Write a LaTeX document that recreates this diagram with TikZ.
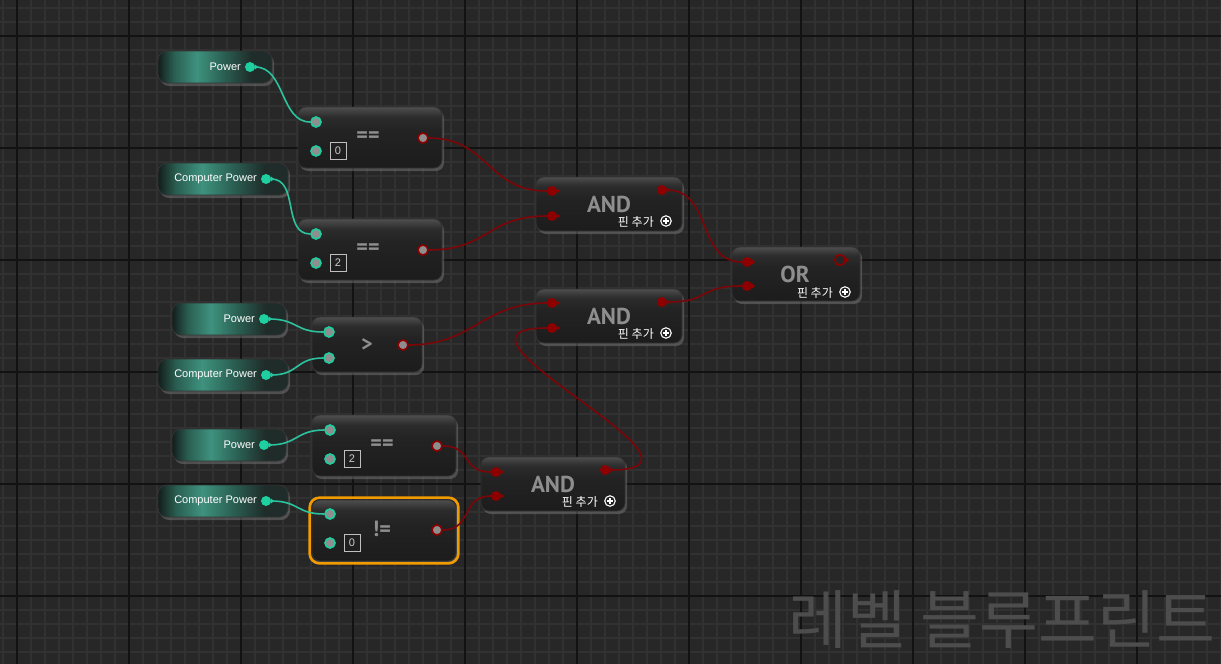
\documentclass[tikz,border=0pt]{standalone}
\usepackage{fontspec}
\setmainfont{Liberation Sans}
\newfontfamily\kofont{Noto Sans CJK KR}
\newfontfamily\gatefont{PT Sans}
\usetikzlibrary{shadows}

\definecolor{bgcol}{HTML}{272727}
\definecolor{minorline}{HTML}{313131}
\definecolor{majorline}{HTML}{121212}
\definecolor{tealpin}{HTML}{1ECFA0}
\definecolor{tealwire}{HTML}{2BC39E}
\definecolor{redpin}{HTML}{8E0000}
\definecolor{redwire}{HTML}{7C0508}
\definecolor{pingrey}{HTML}{8E8E8E}
\definecolor{optext}{HTML}{8E8E8E}
\definecolor{opbot}{HTML}{1C1C1C}
\definecolor{opmid}{HTML}{232323}
\definecolor{opmid2}{HTML}{2C2C2C}
\definecolor{optop}{HTML}{4E4E4E}
\definecolor{vdark}{HTML}{141D1B}
\definecolor{vmid}{HTML}{2A5F52}
\definecolor{vteal}{HTML}{3E927E}
\definecolor{vdark2}{HTML}{1F2C29}
\definecolor{selorange}{HTML}{F29B00}
\definecolor{watermark}{HTML}{4D4D4D}

\pgfdeclareverticalshading{opshade}{100bp}{color(0bp)=(opbot); color(25bp)=(opbot); color(56bp)=(opmid); color(67bp)=(opmid2); color(75bp)=(optop); color(100bp)=(optop)}
\pgfdeclarehorizontalshading{varshade}{100bp}{color(0bp)=(vdark); color(25bp)=(vdark); color(32bp)=(vmid); color(42bp)=(vteal); color(54bp)=(vmid); color(66bp)=(vdark2); color(100bp)=(vdark2)}

% little triangle beside a pin
\newcommand{\pinarrow}[2]{\fill[#2] ([xshift=-0.5pt]#1.east) -- ++(0,2.6) -- ++(3.6,-2.6) -- ++(-3.6,-2.6) -- cycle;}

\begin{document}
\begin{tikzpicture}[x=1pt, y=-1pt,
    opnode/.style={rectangle, rounded corners=8pt, shading=opshade, draw=black!80, line width=0.8pt,
      drop shadow={shadow xshift=2pt, shadow yshift=-3pt, opacity=0.45}, inner sep=0pt},
    varnode/.style={rectangle, rounded corners=9pt, shading=varshade, draw=black!80, line width=0.8pt,
      minimum height=32pt, drop shadow={shadow xshift=2pt, shadow yshift=-3pt, opacity=0.45}, inner sep=0pt},
    varlabel/.style={text=white, font=\fontsize{11}{11}\selectfont, inner sep=0pt, anchor=east},
    varpin/.style={circle, fill=tealpin, inner sep=0pt, minimum size=10pt},
    inpin/.style={circle, draw=tealpin, fill=pingrey, line width=1.6pt, inner sep=0pt, minimum size=10pt},
    outpin/.style={circle, draw=redpin, fill=pingrey, line width=1.6pt, inner sep=0pt, minimum size=10pt},
    gatepin/.style={circle, fill=redpin, inner sep=0pt, minimum size=10pt},
    orout/.style={circle, draw=redpin, fill=black!85, line width=1.6pt, inner sep=0pt, minimum size=10.5pt},
    valbox/.style={draw=black!25, line width=0.8pt, minimum width=16pt, minimum height=17pt, inner sep=0pt,
      text=black!20, font=\fontsize{11}{11}\selectfont},
    oplabel/.style={text=optext, font=\gatefont\bfseries\fontsize{22}{22}\selectfont, inner sep=0pt},
    gatelabel/.style={text=optext, font=\gatefont\bfseries\fontsize{23}{23}\selectfont, inner sep=0pt,
      text height=16pt, text depth=0pt, anchor=base},
    addtext/.style={text=white, font=\kofont\fontsize{12}{12}\selectfont, inner sep=0pt, anchor=east},
    addicon/.style={circle, draw=white, line width=1.1pt, inner sep=0pt, minimum size=10.5pt,
      path picture={\draw[white, line width=1.1pt] ([xshift=-2.6pt]path picture bounding box.center) -- ([xshift=2.6pt]path picture bounding box.center);
        \draw[white, line width=1.1pt] ([yshift=-2.6pt]path picture bounding box.center) -- ([yshift=2.6pt]path picture bounding box.center);}},
    tealline/.style={tealwire, line width=1.6pt},
    redline/.style={redwire, line width=1.6pt}]
  \useasboundingbox (0,0) rectangle (1221,664);

  % grid
  \fill[bgcol] (0,0) rectangle (1221,664);
  \foreach \x in {3,17,...,1221} \draw[minorline, line width=1.4pt] (\x,0) -- (\x,664);
  \foreach \y in {8,22,...,664} \draw[minorline, line width=1.4pt] (0,\y) -- (1221,\y);
  \foreach \x in {17,129,...,1221} \draw[majorline, line width=1.4pt] (\x,0) -- (\x,664);
  \foreach \y in {36,148,...,664} \draw[majorline, line width=1.4pt] (0,\y) -- (1221,\y);

  % watermark
  \node[text=watermark, font=\kofont\fontsize{64}{64}\selectfont, inner sep=0pt] (wm) at (1002,620) {레벨 블루프린트};

  % variables
  \node[varnode, minimum width=114pt] (pwr1) at (215,67) {};
  \node[varpin] (pwr1-out) at (250,67) {};
  \pinarrow{pwr1-out}{tealpin}
  \node[varlabel] at (241,67) {Power};

  \node[varnode, minimum width=130pt] (cpw2) at (223,179) {};
  \node[varpin] (cpw2-out) at (266,179) {};
  \pinarrow{cpw2-out}{tealpin}
  \node[varlabel] at (257,179) {Computer Power};

  \node[varnode, minimum width=114pt] (pwr3) at (229,319) {};
  \node[varpin] (pwr3-out) at (264,319) {};
  \pinarrow{pwr3-out}{tealpin}
  \node[varlabel] at (255,319) {Power};

  \node[varnode, minimum width=130pt] (cpw4) at (223,375) {};
  \node[varpin] (cpw4-out) at (266,375) {};
  \pinarrow{cpw4-out}{tealpin}
  \node[varlabel] at (257,375) {Computer Power};

  \node[varnode, minimum width=114pt] (pwr5) at (229,445) {};
  \node[varpin] (pwr5-out) at (264,445) {};
  \pinarrow{pwr5-out}{tealpin}
  \node[varlabel] at (255,445) {Power};

  \node[varnode, minimum width=130pt] (cpw6) at (223,501) {};
  \node[varpin] (cpw6-out) at (266,501) {};
  \pinarrow{cpw6-out}{tealpin}
  \node[varlabel] at (257,501) {Computer Power};

  % compare nodes
  \node[opnode, minimum width=144pt, minimum height=61pt] (eqA) at (370,137.5) {};
  \node[oplabel] at (368,137) {==};
  \node[inpin] (eqA-i1) at (316,122) {};
  \node[inpin] (eqA-i2) at (316,151) {};
  \node[valbox] (eqA-v) at (338,151) {0};
  \node[outpin] (eqA-out) at (423,138) {};

  \node[opnode, minimum width=144pt, minimum height=61pt] (eqB) at (370,249.5) {};
  \node[oplabel] at (368,249) {==};
  \node[inpin] (eqB-i1) at (316,234) {};
  \node[inpin] (eqB-i2) at (316,263) {};
  \node[valbox] (eqB-v) at (338,263) {2};
  \node[outpin] (eqB-out) at (423,250) {};

  \node[opnode, minimum width=110pt, minimum height=55pt] (gtC) at (367,344.5) {};
  \node[oplabel] at (367,345) {>};
  \node[inpin] (gtC-i1) at (329,332) {};
  \node[inpin] (gtC-i2) at (329,358) {};
  \node[outpin] (gtC-out) at (403,345) {};

  \node[opnode, minimum width=144pt, minimum height=61pt] (eqD) at (384,445.5) {};
  \node[oplabel] at (382,445) {==};
  \node[inpin] (eqD-i1) at (330,430) {};
  \node[inpin] (eqD-i2) at (330,459) {};
  \node[valbox] (eqD-v) at (352,459) {2};
  \node[outpin] (eqD-out) at (437,446) {};

  \node[opnode, minimum width=144pt, minimum height=61pt] (neE) at (384,530.5) {};
  \draw[selorange, line width=2.6pt, rounded corners=10pt] ([xshift=-2pt, yshift=-2pt]neE.south west) rectangle ([xshift=2pt, yshift=2pt]neE.north east);
  \node[oplabel] at (382,529) {!=};
  \node[inpin] (neE-i1) at (330,514) {};
  \node[inpin] (neE-i2) at (330,543) {};
  \node[valbox] (neE-v) at (352,543) {0};
  \node[outpin] (neE-out) at (437,530) {};

  % gates
  \node[opnode, minimum width=146pt, minimum height=54pt] (andF) at (609,204) {};
  \node[gatelabel] at (609,212) {AND};
  \node[gatepin] (andF-i1) at (552,191) {};
  \pinarrow{andF-i1}{redpin}
  \node[gatepin] (andF-i2) at (552,216) {};
  \pinarrow{andF-i2}{redpin}
  \node[gatepin] (andF-out) at (662,190) {};
  \pinarrow{andF-out}{redpin}
  \node[addicon] (andF-add) at (666,221) {};
  \node[addtext] at (654,222) {핀 추가};

  \node[opnode, minimum width=146pt, minimum height=54pt] (andG) at (609,316) {};
  \node[gatelabel] at (609,324) {AND};
  \node[gatepin] (andG-i1) at (552,303) {};
  \pinarrow{andG-i1}{redpin}
  \node[gatepin] (andG-i2) at (552,328) {};
  \pinarrow{andG-i2}{redpin}
  \node[gatepin] (andG-out) at (662,302) {};
  \pinarrow{andG-out}{redpin}
  \node[addicon] (andG-add) at (666,333) {};
  \node[addtext] at (654,334) {핀 추가};

  \node[opnode, minimum width=144pt, minimum height=54pt] (andH) at (553,484) {};
  \node[gatelabel] at (553,492) {AND};
  \node[gatepin] (andH-i1) at (496,472) {};
  \pinarrow{andH-i1}{redpin}
  \node[gatepin] (andH-i2) at (496,496) {};
  \pinarrow{andH-i2}{redpin}
  \node[gatepin] (andH-out) at (605,470) {};
  \pinarrow{andH-out}{redpin}
  \node[addicon] (andH-add) at (610,501) {};
  \node[addtext] at (598,502) {핀 추가};

  \node[opnode, minimum width=128pt, minimum height=54pt] (orI) at (796,274) {};
  \node[gatelabel] at (795,282) {OR};
  \node[gatepin] (orI-i1) at (747,262) {};
  \pinarrow{orI-i1}{redpin}
  \node[gatepin] (orI-i2) at (747,286) {};
  \pinarrow{orI-i2}{redpin}
  \node[orout] (orI-out) at (840,260) {};
  \pinarrow{orI-out}{redpin}
  \node[addicon] (orI-add) at (845,292) {};
  \node[addtext] at (833,293) {핀 추가};

  % teal wires
  \draw[tealline] (pwr1-out.east) .. controls +(30,0) and +(-30,0) .. (eqA-i1.west);
  \draw[tealline] (cpw2-out.east) .. controls +(28,0) and +(-28,0) .. (eqB-i1.west);
  \draw[tealline] (pwr3-out.east) .. controls +(28,0) and +(-28,0) .. (gtC-i1.west);
  \draw[tealline] (cpw4-out.east) .. controls +(28,0) and +(-28,0) .. (gtC-i2.west);
  \draw[tealline] (pwr5-out.east) .. controls +(28,0) and +(-28,0) .. (eqD-i1.west);
  \draw[tealline] (cpw6-out.east) .. controls +(28,0) and +(-28,0) .. (neE-i1.west);

  % red wires
  \draw[redline] (eqA-out.east) .. controls +(60,0) and +(-60,0) .. (andF-i1.west);
  \draw[redline] (eqB-out.east) .. controls +(60,0) and +(-60,0) .. (andF-i2.west);
  \draw[redline] (gtC-out.east) .. controls +(65,0) and +(-65,0) .. (andG-i1.west);
  \draw[redline] (andH-out.east) .. controls +(130,0) and +(-130,0) .. (andG-i2.west);
  \draw[redline] (eqD-out.east) .. controls +(30,0) and +(-30,0) .. (andH-i1.west);
  \draw[redline] (neE-out.east) .. controls +(30,0) and +(-30,0) .. (andH-i2.west);
  \draw[redline] (andF-out.east) .. controls +(45,0) and +(-45,0) .. (orI-i1.west);
  \draw[redline] (andG-out.east) .. controls +(45,0) and +(-45,0) .. (orI-i2.west);
\end{tikzpicture}
\end{document}
